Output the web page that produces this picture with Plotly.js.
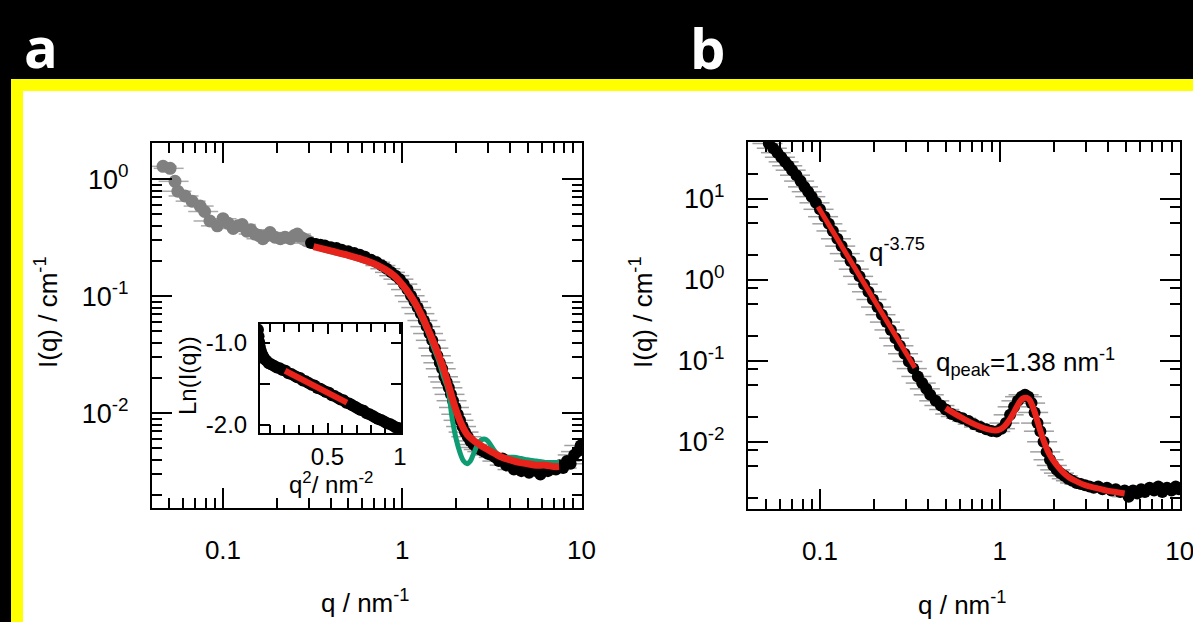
<!DOCTYPE html>
<html>
<head>
<meta charset="utf-8">
<script src="https://cdn.plot.ly/plotly-3.0.1.min.js"></script>
<style>
  html, body { margin:0; padding:0; background:#000; width:1193px; height:622px; overflow:hidden; }
  #bg { position:absolute; left:11px; top:79px; width:1300px; height:700px; background:#fff;
        border:12px solid #ffff00; box-sizing:border-box; }
  #plot { position:absolute; left:0; top:0; width:1193px; height:622px; }
</style>
</head>
<body>
<div id="bg"></div>
<div id="plot"></div>
<script>
// ---------- Panel a : grey (low-q) data ----------
const greyQ = [0.0463,0.0507,0.054,0.056,0.0614,0.0672,0.0745,0.079,0.0846,0.093,0.100,0.107,0.114,0.121,0.128,0.136,0.143,0.151,0.159,0.167,0.175,0.183,0.195,0.209,0.222,0.238,0.250,0.260,0.270,0.281,0.290,0.300];
const greyI = [1.29,1.24,0.96,0.79,0.72,0.65,0.59,0.53,0.44,0.40,0.46,0.42,0.38,0.40,0.41,0.36,0.37,0.34,0.33,0.31,0.33,0.35,0.32,0.31,0.32,0.31,0.33,0.34,0.32,0.31,0.30,0.295];

// ---------- Panel a : black data ----------
const qA = [0.31,0.33,0.35,0.37,0.40,0.43,0.46,0.50,0.54,0.58,0.62,0.67,0.72,0.77,0.82,0.87,0.92,0.97,1.02,1.07,1.12,1.17,1.22,1.27,1.32,1.37,1.42,1.47,1.52,1.57,1.62,1.67,1.72,1.77,1.82,1.87,1.92,1.98,2.04,2.10,2.17,2.24,2.32,2.40,2.50,2.60,2.72,2.85,3.00,3.15,3.30,3.46,3.63,3.80,4.00,4.20,4.40,4.62,4.85,5.10,5.35,5.60,5.90,6.20,6.50,6.85,7.20,7.55,7.90,8.30,8.70,9.10,9.50,9.90];
const iA = [0.285,0.28,0.275,0.272,0.262,0.258,0.25,0.242,0.234,0.226,0.218,0.205,0.195,0.183,0.172,0.160,0.150,0.140,0.127,0.114,0.101,0.090,0.080,0.071,0.062,0.055,0.048,0.042,0.036,0.031,0.027,0.024,0.0205,0.0185,0.0165,0.0145,0.0128,0.0112,0.0098,0.0087,0.0077,0.0069,0.0063,0.0058,0.0054,0.0051,0.0049,0.0047,0.0045,0.0044,0.0042,0.0039,0.0041,0.0036,0.0038,0.0033,0.0035,0.0032,0.0034,0.0031,0.0033,0.0032,0.0030,0.0034,0.0032,0.0035,0.0033,0.0036,0.0034,0.0039,0.0037,0.0044,0.0047,0.0053];

// ---------- Panel a : fits ----------
const qFitRedA = [0.32,0.40,0.50,0.60,0.70,0.80,0.90,1.0,1.1,1.2,1.3,1.4,1.5,1.6,1.7,1.8,1.9,2.0,2.1,2.2,2.3,2.45,2.6,2.8,3.0,3.3,3.6,4.0,4.5,5.0,5.6,6.3,7.0,7.5];
const iFitRedA = [0.266,0.244,0.224,0.206,0.189,0.170,0.150,0.126,0.104,0.084,0.066,0.051,0.040,0.031,0.024,0.018,0.0135,0.0105,0.0086,0.0074,0.0066,0.0060,0.0056,0.0052,0.0049,0.0045,0.0042,0.0040,0.0038,0.0037,0.0036,0.0036,0.0035,0.0035];
const qFitGreenA = [0.33,0.40,0.50,0.60,0.70,0.80,0.90,1.0,1.1,1.2,1.3,1.4,1.5,1.6,1.7,1.8,1.9,2.0,2.1,2.2,2.3,2.4,2.5,2.62,2.75,2.9,3.0,3.15,3.3,3.5,3.7,3.9,4.2,4.6,5.0,5.6,6.3,7.0,7.5];
const iFitGreenA = [0.262,0.240,0.220,0.202,0.186,0.167,0.147,0.123,0.100,0.080,0.062,0.048,0.036,0.028,0.0205,0.0160,0.0090,0.0060,0.0046,0.0039,0.0037,0.0039,0.0045,0.0053,0.0059,0.0060,0.0058,0.0052,0.0047,0.0043,0.0041,0.0042,0.0042,0.0041,0.0040,0.0039,0.0038,0.0038,0.0038];

// ---------- Panel a inset : Guinier plot ----------
const q2Inset = [0.020,0.024,0.028,0.033,0.040,0.048,0.057,0.067,0.080,0.095,0.11,0.13,0.15,0.17,0.19,0.21,0.23,0.25,0.27,0.29,0.31,0.33,0.35,0.37,0.39,0.41,0.43,0.45,0.47,0.49,0.51,0.53,0.55,0.57,0.59,0.61,0.63,0.65,0.67,0.69,0.71,0.73,0.75,0.77,0.79,0.81,0.83,0.85,0.87,0.89,0.91,0.93,0.95,0.97,0.99];
const lnIInset = [-0.84,-0.92,-0.99,-1.05,-1.10,-1.14,-1.17,-1.20,-1.22,-1.25,-1.26,-1.28,-1.30,-1.31,-1.33,-1.34,-1.37,-1.38,-1.40,-1.42,-1.43,-1.46,-1.47,-1.49,-1.51,-1.52,-1.55,-1.56,-1.58,-1.60,-1.61,-1.64,-1.65,-1.67,-1.69,-1.70,-1.73,-1.74,-1.76,-1.78,-1.80,-1.82,-1.83,-1.86,-1.87,-1.89,-1.91,-1.93,-1.94,-1.96,-1.98,-1.99,-2.01,-2.03,-2.04];
const q2FitInset = [0.207,0.634];
const lnFitInset = [-1.34,-1.73];

// ---------- Panel b : black data ----------
const qB = [0.052,0.055,0.058,0.061,0.064,0.067,0.070,0.074,0.078,0.082,0.086,0.090,0.095,0.100,0.106,0.112,0.118,0.125,0.132,0.140,0.148,0.157,0.166,0.176,0.186,0.197,0.209,0.221,0.234,0.248,0.263,0.278,0.295,0.312,0.330,0.350,0.37,0.39,0.41,0.44,0.47,0.50,0.54,0.58,0.62,0.67,0.72,0.78,0.84,0.90,0.96,1.02,1.08,1.14,1.20,1.26,1.32,1.38,1.44,1.50,1.56,1.62,1.68,1.75,1.82,1.90,1.98,2.07,2.17,2.28,2.40,2.53,2.67,2.82,2.98,3.15,3.33,3.52,3.72,3.94,4.17,4.41,4.67,4.94,5.2,5.5,5.8,6.1,6.4,6.8,7.2,7.6,8.0,8.5,9.0,9.5,9.9];
const iB = [48,42,37,32.5,28.5,25.5,22.5,19.5,16.5,14.0,12.2,10.6,8.9,7.4,6.0,4.9,4.0,3.2,2.6,2.1,1.7,1.35,1.1,0.88,0.71,0.57,0.46,0.37,0.30,0.24,0.19,0.153,0.122,0.098,0.080,0.064,0.053,0.045,0.038,0.032,0.028,0.025,0.022,0.0205,0.0195,0.0180,0.0165,0.0152,0.0143,0.0136,0.0134,0.0145,0.0170,0.0215,0.027,0.032,0.036,0.038,0.036,0.030,0.023,0.017,0.0135,0.0100,0.0075,0.0060,0.0051,0.0045,0.0041,0.0038,0.0035,0.0033,0.0031,0.0030,0.0029,0.0028,0.0027,0.0028,0.0026,0.0027,0.0025,0.0026,0.0024,0.0025,0.0021,0.0025,0.0023,0.0026,0.0024,0.0027,0.0025,0.0028,0.0024,0.0027,0.0025,0.0028,0.0026];

// ---------- Panel b : fits ----------
const qPowerB = [0.0975,0.245,0.337];
const iPowerB = [7.96,0.263,0.082];
const qPeakFitB = [0.50,0.56,0.63,0.70,0.78,0.86,0.94,1.0,1.06,1.12,1.18,1.24,1.30,1.35,1.40,1.45,1.50,1.56,1.62,1.70,1.80,1.90,2.0,2.2,2.4,2.7,3.0,3.4,3.9,4.4,4.94];
const iPeakFitB = [0.0260,0.0222,0.0192,0.0170,0.0153,0.0142,0.0138,0.0142,0.0155,0.0180,0.0218,0.0268,0.0320,0.0345,0.0350,0.0335,0.0295,0.0235,0.0178,0.0125,0.0088,0.0068,0.0057,0.0044,0.0037,0.0032,0.0029,0.0027,0.0025,0.0024,0.0023];

// ---------- Tick labels ----------
const xTickVals = [0.1, 1, 10];
const xTickText = ['0.1', '1', '10'];
const yTickValsA = [0.01, 0.1, 1];
const yTickTextA = ['10<sup>-2</sup>', '10<sup>-1</sup>', '10<sup>0</sup>'];
const yTickValsB = [0.01, 0.1, 1, 10];
const yTickTextB = ['10<sup>-2</sup>', '10<sup>-1</sup>', '10<sup>0</sup>', '10<sup>1</sup>'];
const insetXTickVals = [0.5, 1];
const insetXTickText = ['0.5', '1'];
const insetYTickVals = [-1, -1.5, -2];
const insetYTickText = ['-1.0', '', '-2.0'];

// ---------- layout helpers ----------
const W = 1193, H = 622;
const dx = p => p / W;
const dy = p => 1 - p / H;
const FONT = 'Liberation Sans, Arial, Helvetica, sans-serif';

function logMinor(d0, d1, mults) {
  const v = [];
  for (let d = d0; d <= d1; d++) for (const m of mults) v.push(m * Math.pow(10, d));
  return v;
}
const all9 = [2,3,4,5,6,7,8,9];

const axBase = {
  showgrid:false, zeroline:false, showline:true, linecolor:'black', linewidth:2,
  mirror:'allticks', ticks:'inside', ticklen:20, tickwidth:2, tickcolor:'black',
  tickfont:{family:FONT, size:26, color:'black'}, ticklabeloverflow:'allow',
  tickmode:'array', fixedrange:true
};
function minor(vals, len) {
  return {tickmode:'array', tickvals:vals, ticks:'inside', ticklen:len, tickwidth:2, tickcolor:'black', showgrid:false};
}

const errX = {type:'percent', value:19, color:'#a0a0a0', thickness:1.5, width:0};

const traces = [
  {x:greyQ, y:greyI, xaxis:'x', yaxis:'y', mode:'markers', type:'scatter',
   marker:{color:'#808080', size:13}, error_x:Object.assign({}, errX, {color:'#ababab'})},
  {x:qA, y:iA, xaxis:'x', yaxis:'y', mode:'markers', type:'scatter',
   marker:{color:'black', size:12}, error_x:errX},
  {x:qFitGreenA, y:iFitGreenA, xaxis:'x', yaxis:'y', mode:'lines', type:'scatter',
   line:{color:'#0e9c72', width:5, shape:'spline', smoothing:1}},
  {x:qFitRedA, y:iFitRedA, xaxis:'x', yaxis:'y', mode:'lines', type:'scatter',
   line:{color:'#e8231b', width:7, shape:'spline', smoothing:1}},
  {x:q2Inset, y:lnIInset, xaxis:'x2', yaxis:'y2', mode:'markers', type:'scatter',
   marker:{color:'black', size:12}},
  {x:q2FitInset, y:lnFitInset, xaxis:'x2', yaxis:'y2', mode:'lines', type:'scatter',
   line:{color:'#e8231b', width:6}},
  {x:qB, y:iB, xaxis:'x3', yaxis:'y3', mode:'markers', type:'scatter',
   marker:{color:'black', size:12}, error_x:errX},
  {x:qPowerB, y:iPowerB, xaxis:'x3', yaxis:'y3', mode:'lines', type:'scatter',
   line:{color:'#e8231b', width:5}},
  {x:qPeakFitB, y:iPeakFitB, xaxis:'x3', yaxis:'y3', mode:'lines', type:'scatter',
   line:{color:'#e8231b', width:6, shape:'spline', smoothing:1}}
];

const layout = {
  width:W, height:H, margin:{l:0, r:0, t:0, b:0, pad:0},
  paper_bgcolor:'rgba(0,0,0,0)', plot_bgcolor:'white',
  showlegend:false, font:{family:FONT, color:'black'},
  xaxis: Object.assign({}, axBase, {type:'log', domain:[dx(152), dx(582)], range:[-1.396, 1.003], anchor:'y',
    tickvals:xTickVals, ticktext:xTickText, ticklabelstandoff:18,
    minor:minor(logMinor(-2, 0, all9), 10)}),
  yaxis: Object.assign({}, axBase, {type:'log', domain:[dy(508), dy(143)], range:[-2.81, 0.31], anchor:'x',
    tickvals:yTickValsA, ticktext:yTickTextA, ticklabelstandoff:16, tickfont:{family:FONT, size:27, color:'black'},
    minor:minor(logMinor(-3, -1, all9), 10)}),
  xaxis2: Object.assign({}, axBase, {type:'linear', domain:[dx(260), dx(401)], range:[0.034, 1.007], anchor:'y2',
    tickvals:insetXTickVals, ticktext:insetXTickText, ticklen:10, ticklabelstandoff:1,
    tickfont:{family:FONT, size:24, color:'black'},
    minor:minor([0.1,0.2,0.3,0.4,0.6,0.7,0.8,0.9], 8)}),
  yaxis2: Object.assign({}, axBase, {type:'linear', domain:[dy(433), dy(324)], range:[-2.10, -0.77], anchor:'x2',
    tickvals:insetYTickVals, ticktext:insetYTickText, ticklen:10, ticklabelstandoff:6,
    tickfont:{family:FONT, size:24, color:'black'}}),
  xaxis3: Object.assign({}, axBase, {type:'log', domain:[dx(748), dx(1180)], range:[-1.4, 1.0015], anchor:'y3',
    tickvals:xTickVals, ticktext:xTickText, ticklabelstandoff:18,
    minor:minor(logMinor(-2, 0, all9), 10)}),
  yaxis3: Object.assign({}, axBase, {type:'log', domain:[dy(509), dy(142)], range:[-2.83, 1.70], anchor:'x3',
    tickvals:yTickValsB, ticktext:yTickTextB, ticklabelstandoff:16, tickfont:{family:FONT, size:27, color:'black'},
    minor:minor(logMinor(-3, 1, [2,5,8]), 10)}),
  annotations: [
    {text:'a', x:dx(22), y:dy(6), xref:'paper', yref:'paper', xanchor:'left', yanchor:'top', showarrow:false,
     font:{family:'Open Sans, DejaVu Sans, sans-serif', size:56, color:'white', weight:700}},
    {text:'b', x:dx(688), y:dy(7), xref:'paper', yref:'paper', xanchor:'left', yanchor:'top', showarrow:false,
     font:{family:'Open Sans, DejaVu Sans, sans-serif', size:56, color:'white', weight:700}},
    {text:'I(q) / cm<sup>-1</sup>', x:dx(46), y:dy(312), xref:'paper', yref:'paper', textangle:-90,
     xanchor:'center', yanchor:'middle', showarrow:false, font:{family:FONT, size:26, color:'black'}},
    {text:'I(q) / cm<sup>-1</sup>', x:dx(641), y:dy(312), xref:'paper', yref:'paper', textangle:-90,
     xanchor:'center', yanchor:'middle', showarrow:false, font:{family:FONT, size:26, color:'black'}},
    {text:'q / nm<sup>-1</sup>', x:dx(365), y:dy(601), xref:'paper', yref:'paper',
     xanchor:'center', yanchor:'middle', showarrow:false, font:{family:FONT, size:26, color:'black'}},
    {text:'q / nm<sup>-1</sup>', x:dx(962), y:dy(603), xref:'paper', yref:'paper',
     xanchor:'center', yanchor:'middle', showarrow:false, font:{family:FONT, size:26, color:'black'}},
    {text:'Ln(I(q))', x:dx(187), y:dy(376), xref:'paper', yref:'paper', textangle:-90,
     xanchor:'center', yanchor:'middle', showarrow:false, font:{family:FONT, size:24, color:'black'}},
    {text:'q<sup>2</sup>/ nm<sup>-2</sup>', x:dx(331), y:dy(483), xref:'paper', yref:'paper',
     xanchor:'center', yanchor:'middle', showarrow:false, font:{family:FONT, size:24, color:'black'}},
    {text:'q<sup>-3.75</sup>', x:dx(867), y:dy(250), xref:'paper', yref:'paper',
     xanchor:'left', yanchor:'middle', showarrow:false, font:{family:FONT, size:26, color:'black'}},
    {text:'q<sub>peak</sub>=1.38 nm<sup>-1</sup>', x:dx(934), y:dy(362), xref:'paper', yref:'paper',
     xanchor:'left', yanchor:'middle', showarrow:false, font:{family:FONT, size:26, color:'black'}}
  ]
};

Plotly.newPlot('plot', traces, layout, {staticPlot:true, displayModeBar:false});
</script>
</body>
</html>
